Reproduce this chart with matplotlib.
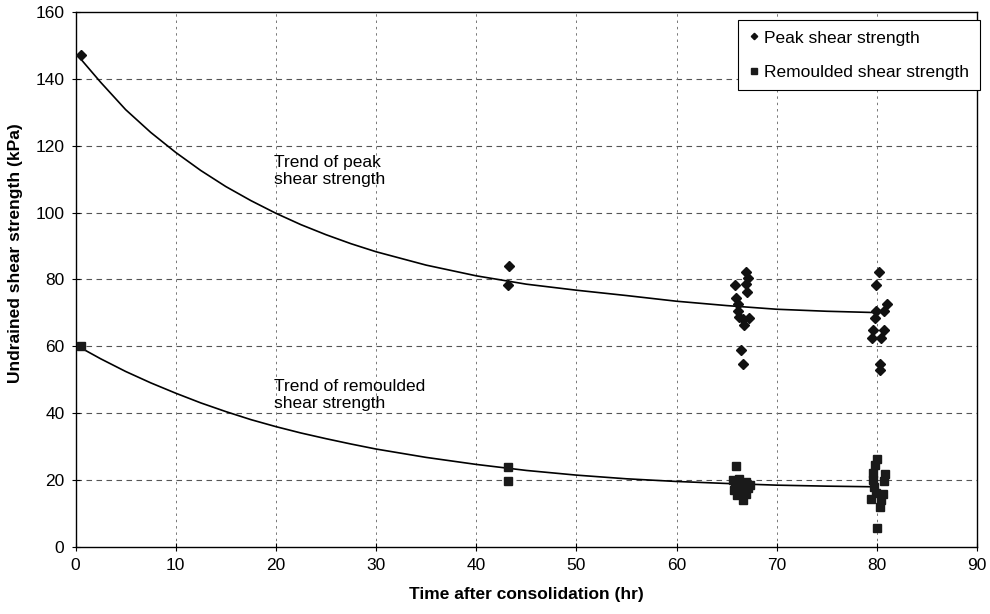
import matplotlib
matplotlib.use("Agg")
import matplotlib.pyplot as plt

# Peak shear strength measurements (time in hr, strength in kPa)
peak_time = [0.5, 43.3, 43.2,
             66.9, 67.1, 65.8, 66.9, 67.0, 65.9, 66.1, 66.1, 66.2, 66.6, 67.2, 66.7, 66.4, 66.6,
             80.2, 79.9, 81.0, 79.9, 80.7, 79.8, 79.6, 80.7, 80.4, 79.5, 80.3, 80.3]
peak_su = [147, 84.1, 78.3,
           82.1, 80.3, 78.3, 78.6, 76.4, 74.4, 72.6, 70.6, 68.7, 68.1, 68.5, 66.4, 58.8, 54.7,
           82.1, 78.3, 72.6, 70.6, 70.6, 68.6, 64.8, 64.8, 62.6, 62.6, 54.8, 52.9]

# Remoulded shear strength measurements
rem_time = [0.5, 43.2, 43.2,
            65.9, 65.6, 66.2, 66.9, 65.8, 66.5, 67.1, 65.7, 66.3, 66.9, 66.0, 66.6, 67.3,
            80.0, 79.8, 79.6, 80.8, 79.6, 80.7, 79.7, 79.9, 80.6, 79.4, 80.4, 80.3, 80.0]
rem_su = [60, 24.0, 19.8,
          24.2, 20.0, 20.2, 19.5, 18.5, 18.0, 17.5, 17.0, 16.5, 16.0, 15.5, 14.0, 18.5,
          26.2, 24.5, 22.0, 21.8, 20.0, 19.8, 18.0, 16.1, 16.0, 14.3, 14.1, 12.1, 5.6]

# Trend lines
trend_time = [0.5, 2.5, 5, 7.5, 10, 12.5, 15, 17.5, 20, 22.5, 25, 27.5, 30, 35, 40,
              45, 50, 55, 60, 65, 70, 75, 80]
peak_trend = [146.0, 139.0, 130.8, 124.0, 118.0, 112.6, 107.8, 103.6, 99.8, 96.4, 93.4,
              90.7, 88.3, 84.3, 81.1, 78.6, 76.8, 75.2, 73.5, 72.2, 71.1, 70.5, 70.1]
rem_trend = [59.6, 56.3, 52.5, 49.1, 46.0, 43.1, 40.5, 38.1, 36.0, 34.1, 32.4,
             30.8, 29.3, 26.8, 24.7, 22.9, 21.5, 20.4, 19.6, 19.0, 18.5, 18.2, 18.0]

x_ticks = list(range(0, 91, 10))
y_ticks = list(range(0, 161, 20))

plt.rcParams['font.family'] = ['Liberation Sans', 'DejaVu Sans']

fig = plt.figure(figsize=(9.9, 6.14), dpi=100)
ax = fig.add_axes([0.0763, 0.1091, 0.9106, 0.8714])

# grid: dashed horizontals, finer verticals
for y in y_ticks[1:-1]:
    ax.axhline(y, color='#555555', lw=0.8, ls=(0, (5, 4)), zorder=0)
for x in x_ticks[1:-1]:
    ax.axvline(x, color='#777777', lw=0.7, ls=(0, (2.5, 4)), zorder=0)

ax.plot(trend_time, peak_trend, color='black', lw=1.2, zorder=2)
ax.plot(trend_time, rem_trend, color='black', lw=1.2, zorder=2)

ax.plot(peak_time, peak_su, ls='none', marker='D', ms=5, color='#111111',
        label='Peak shear strength', zorder=3)
ax.plot(rem_time, rem_su, ls='none', marker='s', ms=6, color='#1a1a1a',
        label='Remoulded shear strength', zorder=3)

ax.text(19.8, 112.5, 'Trend of peak\nshear strength', fontsize=12.5,
        ha='left', va='center', linespacing=1.15)
ax.text(19.8, 45.5, 'Trend of remoulded\nshear strength', fontsize=12.5,
        ha='left', va='center', linespacing=1.15)

ax.set_xlim(0, 90)
ax.set_ylim(0, 160)
ax.set_xticks(x_ticks)
ax.set_yticks(y_ticks)
ax.tick_params(direction='inout', length=6, width=0.8, labelsize=12.5, pad=5)

for s in ax.spines.values():
    s.set_linewidth(1.0)
    s.set_color('black')

ax.set_xlabel('Time after consolidation (hr)', fontsize=12.5, fontweight='bold', labelpad=10)
ax.set_ylabel('Undrained shear strength (kPa)', fontsize=12.5, fontweight='bold')
ax.yaxis.set_label_coords(-0.058, 0.55)

leg = ax.legend(loc='upper right', bbox_to_anchor=(1.003, 0.985), borderaxespad=0,
                fontsize=12.5, markerscale=0.65, handlelength=0.6, handletextpad=0.3,
                labelspacing=1.1, borderpad=0.6, fancybox=False, framealpha=1)
leg.get_frame().set_edgecolor('black')
leg.get_frame().set_linewidth(0.8)

fig.savefig('out.png', dpi=100)
